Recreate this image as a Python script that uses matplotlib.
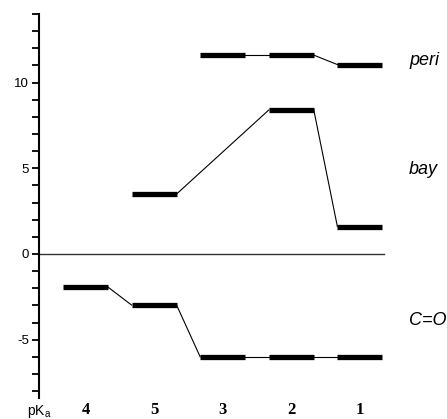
import numpy as np
import matplotlib.pyplot as plt

# compounds in plotted order (left to right)
compounds = ['4', '5', '3', '2', '1']
peri = [np.nan, np.nan, 11.6, 11.6, 11.05]
bay = [np.nan, 3.5, np.nan, 8.4, 1.6]
carbonyl = [-1.93, -2.98, -6.0, -6.0, -6.0]
series_labels = ['peri', 'bay', 'C=O']

plt.rcParams['mathtext.fontset'] = 'custom'
plt.rcParams['mathtext.rm'] = 'Liberation Sans'

fig = plt.figure(figsize=(4.47, 4.19), dpi=100)
W, H = 447, 419
# axes placed in pixels: y axis at x=39, from y=14 (top) to y=398 (bottom)
ax = fig.add_axes([39 / W, (H - 398) / H, (W - 39) / W, (398 - 14) / H])

step = 68.6  # px between compounds
x0 = 85.5    # px of first compound
ax.set_xlim((39 - x0) / step, (W - x0) / step)
ax.set_ylim(-8.4, 14.0)

half = 0.328
xs = np.arange(len(compounds))

for values in (peri, bay, carbonyl):
    pts = [(x, v) for x, v in zip(xs, values) if not np.isnan(v)]
    for x, v in pts:
        ax.plot([x - half, x + half], [v, v], color='black', lw=3.8,
                solid_capstyle='butt')
    for (xa, va), (xb, vb) in zip(pts[:-1], pts[1:]):
        ax.plot([xa + half, xb - half], [va, vb], color='black', lw=0.8)

# zero line
ax.plot([ax.get_xlim()[0], xs[-1] + half + 0.02], [0, 0], color='#333333', lw=1.0)

# series labels on the right
label_x = (409 - x0) / step
for txt, yv in zip(series_labels, [11.3, 4.9, -3.9]):
    ax.text(label_x, yv, txt, fontsize=13, style='italic',
            family='Liberation Sans', va='center', ha='left', clip_on=False)

# y axis
for s in ('top', 'right', 'bottom'):
    ax.spines[s].set_visible(False)
ax.spines['left'].set_linewidth(1.5)
ax.set_yticks([-5, 0, 5, 10])
ax.set_yticklabels(['-5', '0', '5', '10'], family='Liberation Sans', fontsize=9.5)
ax.set_yticks(np.arange(-8, 15, 1), minor=True)
ax.tick_params(axis='y', which='both', length=5, width=1.3, direction='out', pad=2)

# compound labels along the bottom
ax.set_xticks(xs)
ax.set_xticklabels(compounds, family='Liberation Serif', fontweight='bold', fontsize=12)
ax.tick_params(axis='x', length=0, pad=3)
ax.text(0.0, -0.045, r'pK$_{\rm a}$', transform=ax.transAxes, fontsize=10,
        family='Liberation Sans', ha='center', va='baseline')

fig.savefig('out.png', dpi=100)
